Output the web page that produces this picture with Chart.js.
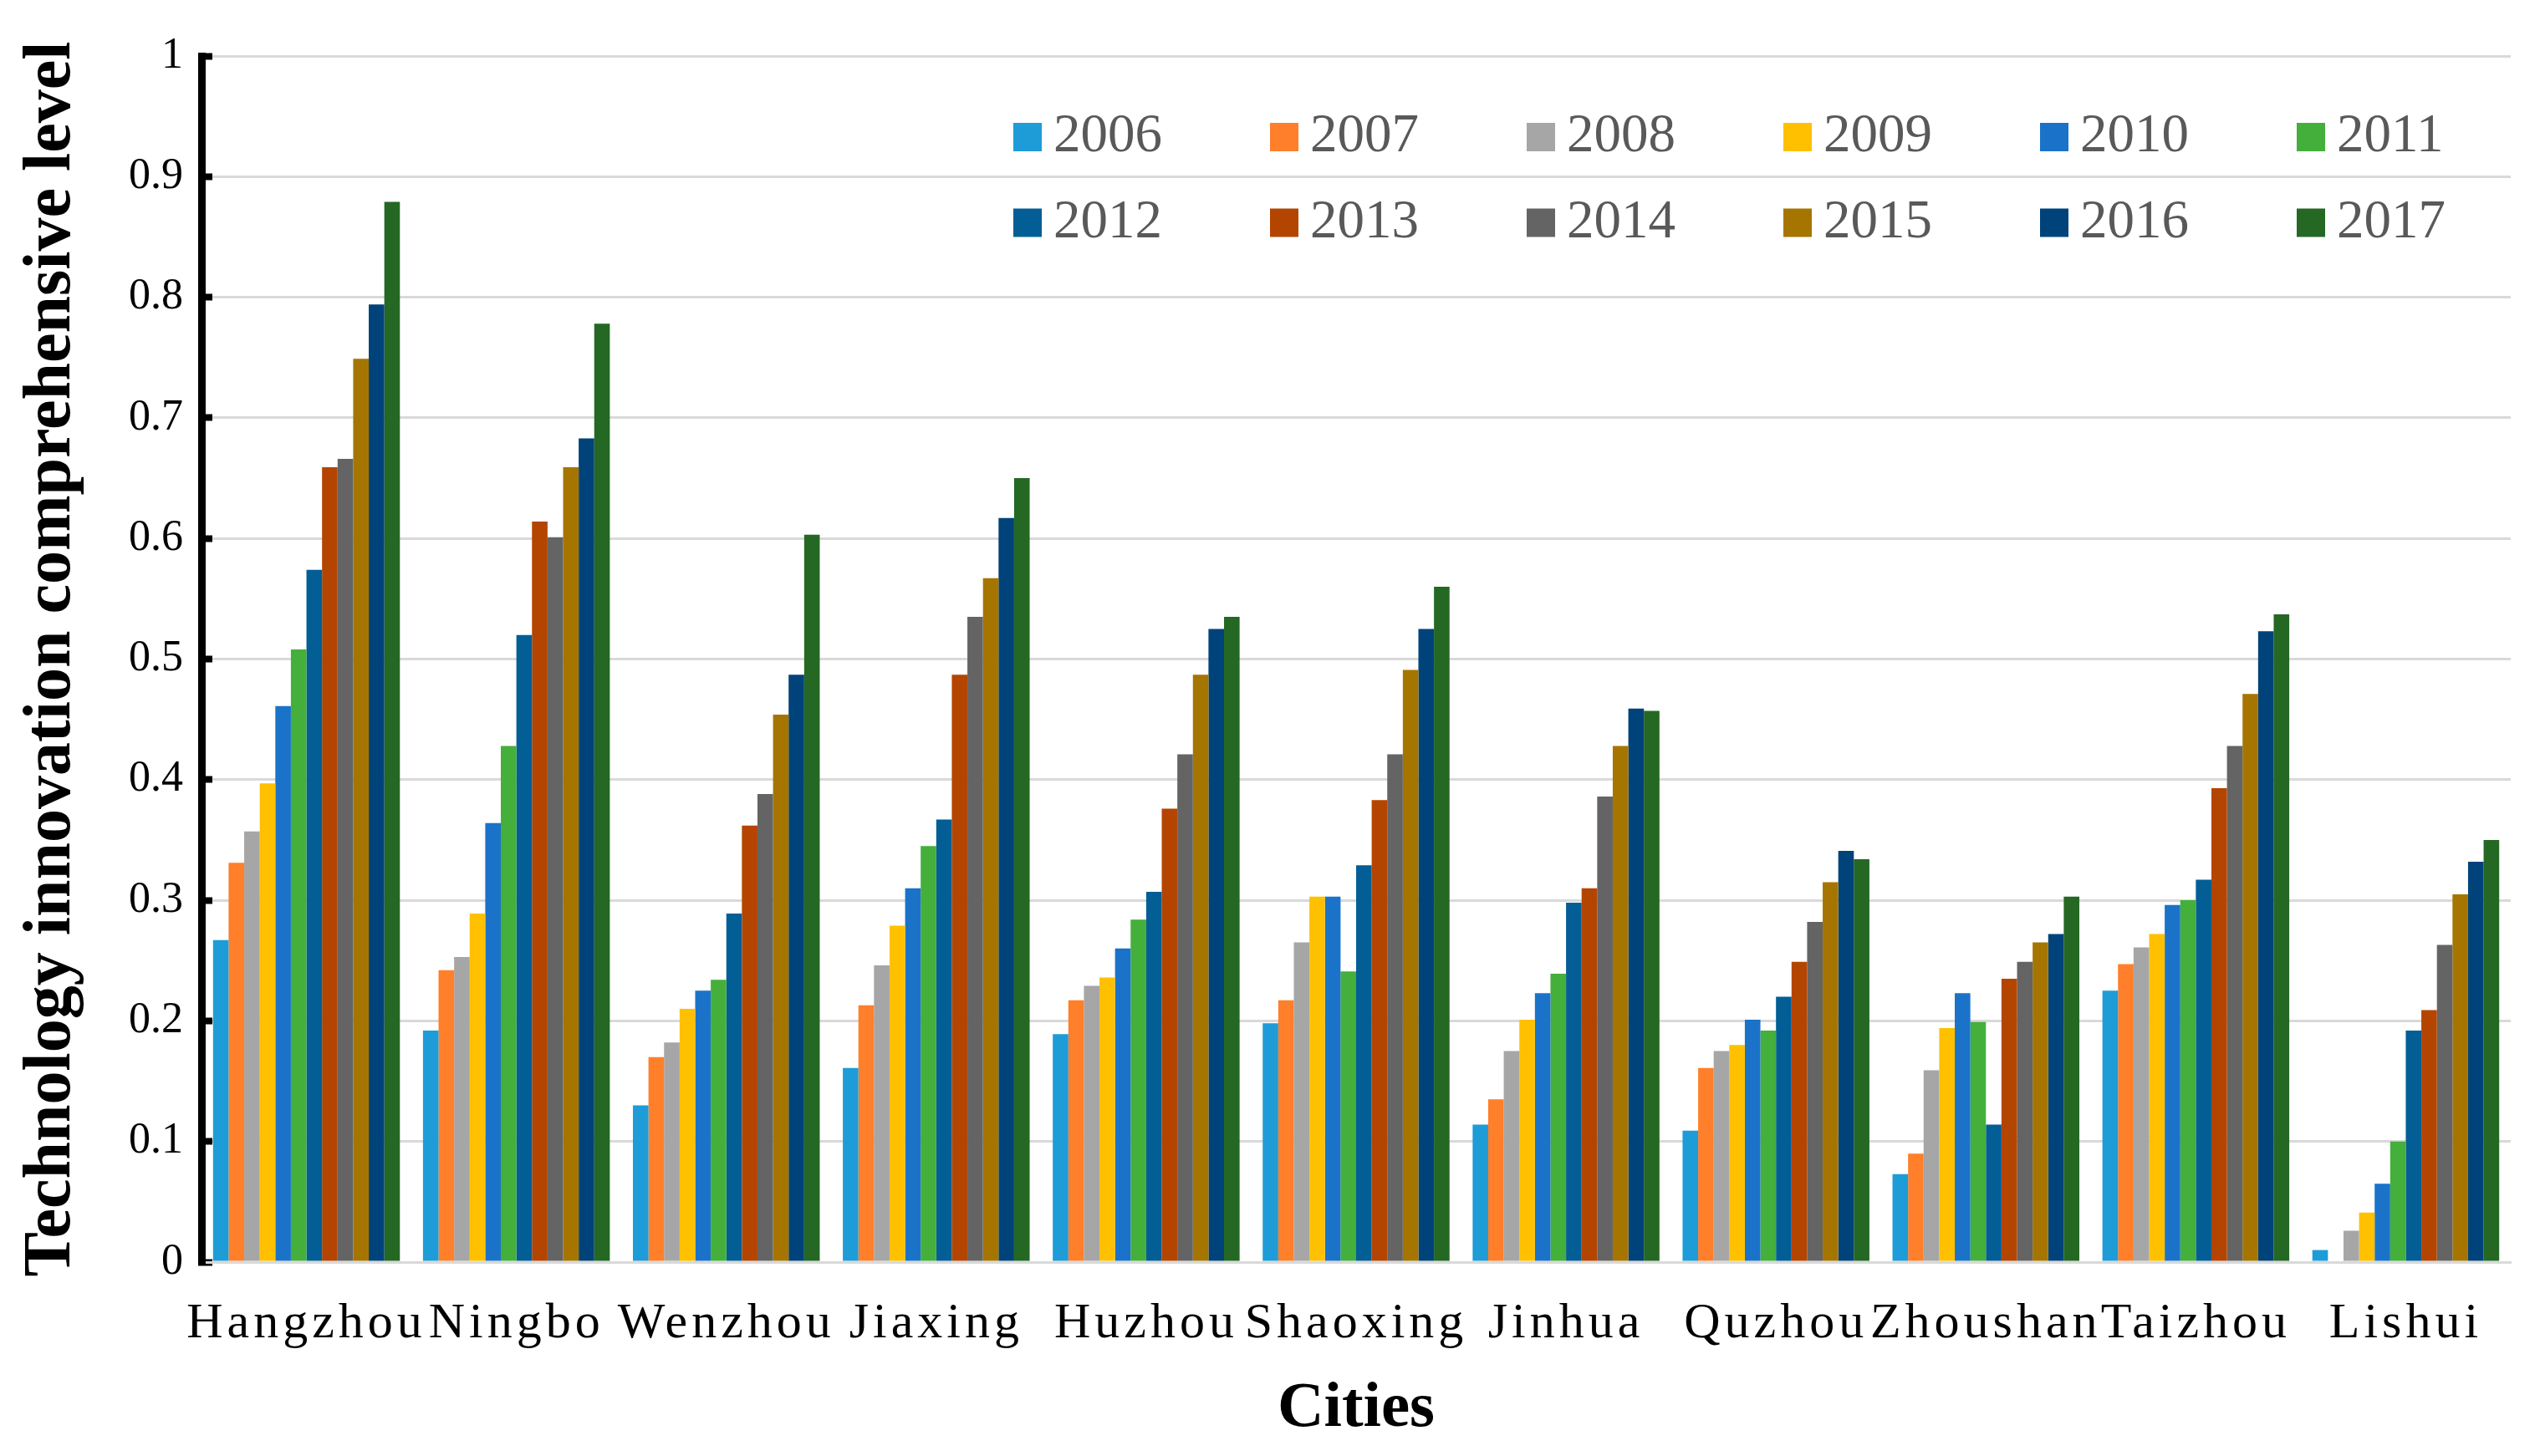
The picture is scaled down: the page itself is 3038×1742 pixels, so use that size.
<!DOCTYPE html>
<html>
<head>
<meta charset="utf-8">
<script src="https://cdn.jsdelivr.net/npm/chart.js@4.4.1/dist/chart.umd.min.js"></script>
<style>
  html, body { margin: 0; padding: 0; background: #ffffff; }
  #wrap { width: 3038px; height: 1742px; }
</style>
</head>
<body>
<div id="wrap"><canvas id="c" width="3038" height="1742"></canvas></div>
<script>
// ---- data ----
const cities = ['Hangzhou', 'Ningbo', 'Wenzhou', 'Jiaxing', 'Huzhou', 'Shaoxing', 'Jinhua', 'Quzhou', 'Zhoushan', 'Taizhou', 'Lishui'];
const years = ['2006', '2007', '2008', '2009', '2010', '2011', '2012', '2013', '2014', '2015', '2016', '2017'];
const y2006 = [0.267, 0.192, 0.130, 0.161, 0.189, 0.198, 0.114, 0.109, 0.073, 0.225, 0.010];
const y2007 = [0.331, 0.242, 0.170, 0.213, 0.217, 0.217, 0.135, 0.161, 0.090, 0.247, 0.000];
const y2008 = [0.357, 0.253, 0.182, 0.246, 0.229, 0.265, 0.175, 0.175, 0.159, 0.261, 0.026];
const y2009 = [0.397, 0.289, 0.210, 0.279, 0.236, 0.303, 0.201, 0.180, 0.194, 0.272, 0.041];
const y2010 = [0.461, 0.364, 0.225, 0.310, 0.260, 0.303, 0.223, 0.201, 0.223, 0.296, 0.065];
const y2011 = [0.508, 0.428, 0.234, 0.345, 0.284, 0.241, 0.239, 0.192, 0.199, 0.300, 0.100];
const y2012 = [0.574, 0.520, 0.289, 0.367, 0.307, 0.329, 0.298, 0.220, 0.114, 0.317, 0.192];
const y2013 = [0.659, 0.614, 0.362, 0.487, 0.376, 0.383, 0.310, 0.249, 0.235, 0.393, 0.209];
const y2014 = [0.666, 0.601, 0.388, 0.535, 0.421, 0.421, 0.386, 0.282, 0.249, 0.428, 0.263];
const y2015 = [0.749, 0.659, 0.454, 0.567, 0.487, 0.491, 0.428, 0.315, 0.265, 0.471, 0.305];
const y2016 = [0.794, 0.683, 0.487, 0.617, 0.525, 0.525, 0.459, 0.341, 0.272, 0.523, 0.332];
const y2017 = [0.879, 0.778, 0.603, 0.650, 0.535, 0.560, 0.457, 0.334, 0.303, 0.537, 0.350];
const seriesValues = [y2006, y2007, y2008, y2009, y2010, y2011, y2012, y2013, y2014, y2015, y2016, y2017];
const yTickLabels = ['0', '0.1', '0.2', '0.3', '0.4', '0.5', '0.6', '0.7', '0.8', '0.9', '1'];
const xTitle = 'Cities';
const yTitle = 'Technology innovation comprehensive level';

// ---- styles ----
const colors = ['#1E9CD8', '#FF7F2A', '#A6A6A6', '#FFC000', '#1A73C9', '#44AF3B',
                '#025E95', '#B44501', '#646464', '#A67500', '#00437A', '#246824'];
const FONT = "'Liberation Serif', 'Times New Roman', serif";

const datasets = years.map((yr, i) => ({
  label: yr,
  data: seriesValues[i],
  backgroundColor: colors[i],
  borderWidth: 0,
  categoryPercentage: 0.89,
  barPercentage: 1.0
}));

// custom grid legend (2 rows x 6 columns inside the plot)
const gridLegend = {
  id: 'gridLegend',
  afterDraw(chart, args, opts) {
    const ctx = chart.ctx;
    ctx.save();
    ctx.font = opts.fontSize + 'px ' + FONT;
    ctx.textBaseline = 'middle';
    ctx.textAlign = 'left';
    chart.data.datasets.forEach((ds, i) => {
      const col = i % opts.cols;
      const row = Math.floor(i / opts.cols);
      const x = opts.left + col * opts.colGap;
      const cy = opts.top + row * opts.rowGap;
      ctx.fillStyle = ds.backgroundColor;
      ctx.fillRect(x, cy - opts.box / 2, opts.box, opts.box);
      ctx.fillStyle = opts.color;
      ctx.fillText(ds.label, x + opts.textGap, cy);
    });
    ctx.restore();
  }
};

// letter spacing for x tick labels
const xLetterSpacing = {
  id: 'xLetterSpacing',
  beforeDraw(chart, args, opts) {
    const s = chart.scales.x;
    if (s && !s._lsPatched) {
      const orig = s.drawLabels;
      s.drawLabels = function (area) {
        const ctx = this.ctx;
        ctx.save();
        ctx.letterSpacing = opts.spacing;
        orig.call(this, area);
        ctx.restore();
      };
      s._lsPatched = true;
    }
  }
};

new Chart(document.getElementById('c'), {
  type: 'bar',
  data: { labels: cities, datasets: datasets },
  plugins: [gridLegend, xLetterSpacing],
  options: {
    responsive: false,
    animation: false,
    devicePixelRatio: 1,
    layout: { padding: { top: 67, right: 35, left: 0, bottom: 0 } },
    plugins: {
      legend: { display: false },
      tooltip: { enabled: false },
      gridLegend: { left: 1212, top: 164, cols: 6, colGap: 307, rowGap: 102.5, box: 34, textGap: 48, fontSize: 65, color: '#595959' },
      xLetterSpacing: { spacing: '5px' }
    },
    scales: {
      x: {
        grid: { display: false, drawTicks: false },
        border: { display: true, color: '#D9D9D9', width: 3 },
        ticks: {
          color: '#000000',
          font: { family: FONT, size: 60 },
          padding: 38,
          autoSkip: false,
          maxRotation: 0,
          minRotation: 0
        },
        title: {
          display: true,
          text: xTitle,
          color: '#000000',
          font: { family: FONT, size: 77, weight: 'bold' },
          padding: { top: 0, bottom: 10 }
        },
        afterFit(scale) { scale.height = 232; }
      },
      y: {
        min: 0,
        max: 1,
        ticks: {
          stepSize: 0.1,
          color: '#000000',
          font: { family: FONT, size: 52 },
          padding: 35,
          callback: (v, i) => yTickLabels[i]
        },
        grid: {
          color: '#D9D9D9',
          lineWidth: 3,
          drawTicks: true,
          tickLength: -13,
          tickColor: '#000000',
          tickWidth: 8
        },
        border: { display: true, color: '#000000', width: 9 },
        title: {
          display: true,
          text: yTitle,
          color: '#000000',
          font: { family: FONT, size: 80, weight: 'bold' },
          padding: { top: 14, bottom: 0 }
        },
        afterFit(scale) { scale.width = 241; }
      }
    }
  }
});
</script>
</body>
</html>
